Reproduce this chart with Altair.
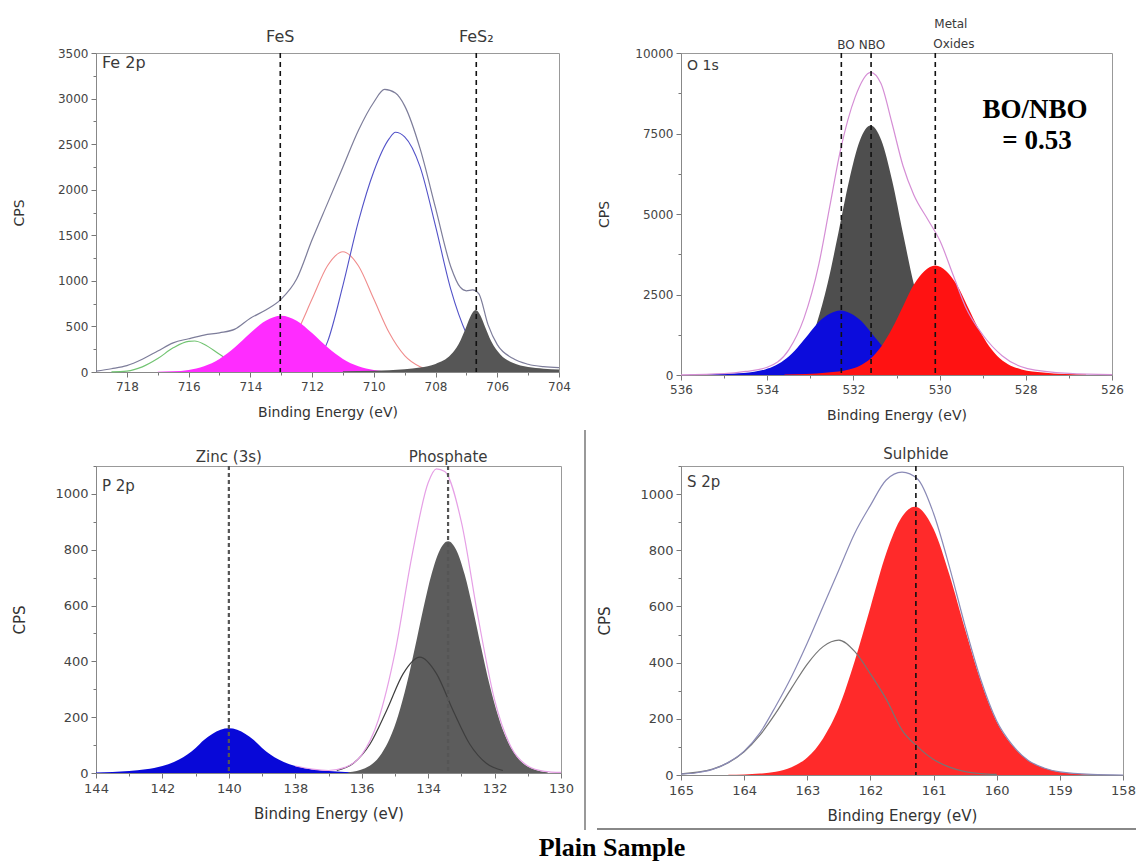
import altair as alt
import pandas as pd

# ---------------- Fe 2p ----------------
fe_env_x = [719.0, 718.5, 718.0, 717.5, 717.0, 716.5, 716.0, 715.5, 715.0, 714.5, 714.0, 713.5, 713.0, 712.5,
            712.0, 711.5, 711.0, 710.5, 710.0, 709.65, 709.3, 709.0, 708.5, 708.0, 707.5, 707.2, 707.0, 706.8,
            706.6, 706.3, 706.0, 705.5, 705.0, 704.5, 704.0]
fe_env_y = [10, 36, 70, 140, 230, 320, 365, 405, 430, 470, 590, 680, 800, 1020,
            1450, 1850, 2250, 2650, 2960, 3100, 3060, 2920, 2450, 1800, 1150, 930, 890, 900,
            860, 520, 300, 150, 85, 58, 48]
fe_blue_x = [712.0, 711.75, 711.5, 711.0, 710.5, 710.0, 709.5, 709.3, 709.0, 708.5, 708.0, 707.5, 707.0,
             706.5, 706.0, 705.5, 705.0, 704.5]
fe_blue_y = [20, 150, 330, 950, 1650, 2200, 2560, 2630, 2580, 2250, 1600, 900, 420, 150, 70, 30, 12, 5]
fe_pink_x = [714.0, 713.5, 713.0, 712.5, 712.0, 711.5, 711.0, 710.5, 710.0, 709.5, 709.0, 708.5, 708.0]
fe_pink_y = [15, 58, 180, 430, 800, 1165, 1320, 1165, 800, 430, 180, 58, 15]
fe_green_x = [718.5, 718.0, 717.5, 717.0, 716.5, 716.0, 715.8, 715.5, 715.0, 714.5, 714.0, 713.5]
fe_green_y = [2, 10, 56, 147, 265, 337, 340, 305, 194, 87, 28, 7]
fe_fes_x = [717.0, 716.5, 716.0, 715.5, 715.0, 714.5, 714.0, 713.5, 713.0, 712.5, 712.0, 711.5, 711.0,
            710.5, 710.0, 709.5, 709.0]
fe_fes_y = [2, 7, 23, 63, 143, 271, 428, 563, 617, 563, 428, 271, 143, 63, 23, 7, 2]
fe_fes2_x = [711.0, 710.0, 709.0, 708.5, 708.0, 707.5, 707.25, 707.0, 706.85, 706.7, 706.55, 706.4, 706.2,
             705.9, 705.5, 705.0, 704.5, 704.0]
fe_fes2_y = [9, 15, 31, 49, 88, 191, 308, 500, 624, 680, 624, 500, 340, 191, 101, 54, 36, 28]
fe_marks_x = [713.03, 706.68]
fe_marks_t = ["FeS", "FeS\u2082"]

# ---------------- O 1s ----------------
o_nbo_x = [534.1, 533.6, 533.35, 533.1, 532.85, 532.6, 532.35, 532.1, 531.85, 531.6, 531.35, 531.1,
           530.85, 530.6, 530.35, 530.1, 529.85, 529.6, 529.1]
o_nbo_y = [14, 139, 357, 805, 1610, 2835, 4400, 6030, 7280, 7750, 7280, 6030, 4400, 2835, 1610, 805,
           357, 139, 14]
o_bo_x = [535.8, 535.3, 534.8, 534.3, 534.05, 533.8, 533.55, 533.3, 533.05, 532.8, 532.55, 532.3, 532.05,
          531.8, 531.55, 531.3, 531.05, 530.8, 530.55, 530.3, 529.8, 529.3, 528.8]
o_bo_y = [8, 20, 45, 100, 170, 300, 520, 850, 1250, 1650, 1900, 2000, 1900, 1650, 1250, 850, 520, 300,
          170, 100, 45, 20, 8]
o_mo_x = [533.6, 533.1, 532.6, 532.1, 531.85, 531.6, 531.35, 531.1, 530.85, 530.6, 530.35, 530.1, 529.85,
          529.6, 529.35, 529.1, 528.85, 528.6, 528.35, 528.1, 527.6, 527.1, 526.6]
o_mo_y = [12, 30, 75, 170, 290, 510, 890, 1450, 2130, 2800, 3230, 3400, 3230, 2800, 2130, 1450, 890, 510,
          290, 170, 75, 30, 12]
o_env_x = [536.0, 535.0, 534.5, 534.0, 533.5, 533.15, 532.8, 532.55, 532.3, 531.96, 531.6, 531.36, 531.11,
           530.85, 530.6, 530.26, 530.0, 529.67, 529.4, 529.0, 528.55, 527.96, 527.0, 526.0]
o_env_y = [5, 40, 110, 240, 780, 1750, 3450, 5220, 6980, 8630, 9400, 9050, 7850, 6500, 5600, 4800, 4190,
           3050, 2120, 1250, 600, 200, 50, 12]
o_marks_x = [532.28, 531.59]
o_marks_t = ["BO", "NBO"]
o_metal_x = [530.1]

# ---------------- P 2p ----------------
p_zn_x = [144.0, 143.5, 143.0, 142.5, 142.0, 141.5, 141.0, 140.75, 140.5, 140.25, 140.0, 139.75, 139.5,
          139.25, 139.0, 138.5, 138.0, 137.5, 137.0, 136.5, 136.0]
p_zn_y = [2, 4, 7, 13, 25, 48, 90, 118, 140, 155, 160, 155, 140, 118, 90, 48, 25, 13, 7, 4, 2]
p_po_x = [136.4, 135.9, 135.4, 135.15, 134.9, 134.65, 134.4, 134.15, 133.9, 133.65, 133.4, 133.15, 132.9,
          132.65, 132.4, 132.15, 131.9, 131.65, 131.4, 130.9, 130.4]
p_po_y = [3, 17, 70, 125, 207, 316, 448, 587, 711, 798, 830, 798, 711, 587, 448, 316, 207, 125, 70, 17, 3]
p_half_x = [136.75, 136.25, 135.75, 135.25, 134.75, 134.25, 133.75, 133.25, 132.75, 132.25, 131.75]
p_half_y = [9, 35, 104, 224, 356, 415, 356, 224, 104, 35, 9]
p_env_x = [138.0, 137.5, 137.0, 136.5, 136.0, 135.5, 135.0, 134.5, 134.0, 133.75, 133.5, 133.0, 132.5,
           132.0, 131.5, 131.0, 130.5, 130.0]
p_env_y = [25, 14, 9, 20, 65, 190, 430, 770, 1040, 1090, 1080, 900, 560, 262, 92, 25, 6, 2]
p_marks_x = [140.0, 133.4]
p_marks_t = ["Zinc (3s)", "Phosphate"]

# ---------------- S 2p ----------------
s_main_x = [164.25, 164.0, 163.75, 163.5, 163.25, 163.0, 162.75, 162.5, 162.25, 162.0, 161.75, 161.5,
            161.3, 161.0, 160.75, 160.5, 160.25, 160.0, 159.75, 159.5, 159.25, 159.0, 158.5, 158.0]
s_main_y = [1, 2, 5, 12, 28, 62, 130, 240, 405, 597, 789, 919, 955, 876, 714, 518, 333, 190, 105, 52, 25,
            11, 2, 0]
s_half_x = [165.0, 164.5, 164.25, 164.0, 163.75, 163.5, 163.25, 163.0, 162.75, 162.5, 162.25, 162.0,
            161.75, 161.5, 161.25, 161.0, 160.75, 160.5, 160.25, 160.0]
s_half_y = [4, 21, 44, 83, 142, 220, 309, 395, 457, 480, 440, 360, 270, 160, 100, 55, 28, 12, 5, 2]
s_env_x = [165.0, 164.75, 164.5, 164.25, 164.0, 163.75, 163.5, 163.25, 163.0, 162.75, 162.5, 162.25, 162.0,
           161.75, 161.5, 161.25, 161.0, 160.75, 160.5, 160.25, 160.0, 159.75, 159.5, 159.25, 159.0,
           158.5, 158.0]
s_env_y = [3, 8, 20, 45, 85, 150, 245, 350, 470, 600, 730, 860, 960, 1050, 1078, 1053, 931, 742, 530, 338,
           192, 106, 52, 25, 11, 2, 0]
s_marks_x = [161.28]
s_marks_t = ["Sulphide"]

FONT = "DejaVu Sans"
SERIF = "Liberation Serif"
TXT = "#3a3a3a"


def frame(x, y):
    return pd.DataFrame({"x": x, "y": y})


def axis_x(values, test, lsize, tsize):
    return alt.Axis(values=values, labelExpr="(" + test + ") ? datum.label : ''", format="d",
                    tickSize={"condition": {"test": test, "value": 5}, "value": 3},
                    labelOverlap=False, labelFlush=False, labelPadding=4, grid=False,
                    labelFontSize=lsize, titleFontSize=tsize,
                    title="Binding Energy (eV)", titleY=33, titleBaseline="top")


def axis_y(values, test, h, lsize, tsize):
    return alt.Axis(values=values, labelExpr="(" + test + ") ? datum.label : ''",
                    tickSize={"condition": {"test": test, "value": 5}, "value": 3},
                    labelOverlap=False, labelFlush=False, labelPadding=3, format="d", grid=False,
                    labelFontSize=lsize, titleFontSize=tsize,
                    title="CPS", titleX=-77, titleY=h / 2, titleAngle=270, titleAlign="center",
                    titleBaseline="middle")


def panel(w, h, xdom, xvals, xtest, ydom, yvals, ytest, layers, lsize=12, tsize=14):
    xs = alt.Scale(domain=xdom, nice=False, zero=False)
    ys = alt.Scale(domain=ydom, nice=False, zero=False)
    X = alt.X("x:Q", scale=xs, axis=axis_x(xvals, xtest, lsize, tsize))
    Y = alt.Y("y:Q", scale=ys, axis=axis_y(yvals, ytest, h, lsize, tsize))
    built = []
    for kind, payload, opts in layers:
        if kind == "area":
            built.append(alt.Chart(payload).mark_area(interpolate="monotone", **opts).encode(x=X, y=Y))
        elif kind == "line":
            built.append(alt.Chart(payload).mark_line(interpolate="monotone", **opts).encode(x=X, y=Y))
        elif kind == "rule":
            built.append(alt.Chart(payload).mark_rule(**opts).encode(x=X))
        elif kind == "label":
            dy = opts.pop("ypix")
            built.append(alt.Chart(payload).mark_text(**opts).encode(x=X, y=alt.value(dy), text="t:N"))
        elif kind == "free":
            built.append(payload)
    return alt.layer(*built).properties(width=w, height=h)


def fixed_text(text, x, y, **opts):
    return alt.Chart(pd.DataFrame({"t": [text]})).mark_text(**opts).encode(
        x=alt.value(x), y=alt.value(y), text="t:N")


# ---------- panel 1 ----------
H1, W1 = 319, 463
p1 = panel(
    W1, H1, [719, 704], list(range(704, 719)), "datum.value % 2 === 0",
    [0, 3500], list(range(0, 3501, 250)), "datum.value % 500 === 0",
    [
        ("line", frame(fe_green_x, fe_green_y), dict(color="#72c472", strokeWidth=1.2)),
        ("line", frame(fe_pink_x, fe_pink_y), dict(color="#f08c8c", strokeWidth=1.1)),
        ("line", frame(fe_blue_x, fe_blue_y), dict(color="#5252c8", strokeWidth=1.1)),
        ("area", frame(fe_fes_x, fe_fes_y), dict(color="#ff2cff", opacity=1)),
        ("area", frame(fe_fes2_x, fe_fes2_y), dict(color="#565656", opacity=1)),
        ("line", frame(fe_env_x, fe_env_y), dict(color="#7d7d9a", strokeWidth=1.2)),
        ("rule", pd.DataFrame({"x": fe_marks_x}), dict(color="#111", strokeWidth=1.6, strokeDash=[5, 4])),
        ("label", pd.DataFrame({"x": fe_marks_x, "t": fe_marks_t}),
         dict(ypix=-11, font=FONT, fontSize=16, color=TXT, baseline="alphabetic", align="center")),
        ("free", fixed_text("Fe 2p", 6, 15, font=FONT, fontSize=16, color=TXT, align="left",
                            baseline="alphabetic"), None),
    ],
)

# ---------- panel 2 ----------
H2, W2 = 322, 431
p2 = panel(
    W2, H2, [536, 526], list(range(526, 537)), "datum.value % 2 === 0",
    [0, 10000], list(range(0, 10001, 1250)), "datum.value % 2500 === 0",
    [
        ("area", frame(o_nbo_x, o_nbo_y), dict(color="#4e4e4e", opacity=1)),
        ("area", frame(o_bo_x, o_bo_y), dict(color="#0c0cdc", opacity=1)),
        ("area", frame(o_mo_x, o_mo_y), dict(color="#ff1212", opacity=1)),
        ("line", frame(o_env_x, o_env_y), dict(color="#d58ed5", strokeWidth=1.2)),
        ("rule", pd.DataFrame({"x": o_marks_x + o_metal_x}),
         dict(color="#111", strokeWidth=1.6, strokeDash=[5, 4])),
        ("label", pd.DataFrame({"x": o_marks_x[:1], "t": o_marks_t[:1]}),
         dict(ypix=-4, font=FONT, fontSize=12, color=TXT, baseline="alphabetic", align="left", dx=-4)),
        ("label", pd.DataFrame({"x": o_marks_x[1:], "t": o_marks_t[1:]}),
         dict(ypix=-4, font=FONT, fontSize=12, color=TXT, baseline="alphabetic", align="center", dx=1)),
        ("label", pd.DataFrame({"x": o_metal_x, "t": ["Metal"]}),
         dict(ypix=-25, font=FONT, fontSize=12, color=TXT, baseline="alphabetic", align="left", dx=-1)),
        ("label", pd.DataFrame({"x": o_metal_x, "t": ["Oxides"]}),
         dict(ypix=-5, font=FONT, fontSize=12, color=TXT, baseline="alphabetic", align="left", dx=-2)),
        ("free", fixed_text("O 1s", 6, 17, font=FONT, fontSize=14, color=TXT, align="left",
                            baseline="alphabetic"), None),
        ("free", fixed_text("BO/NBO", 354, 65, font=SERIF, fontSize=27, fontWeight="bold", color="black",
                            align="center", baseline="alphabetic"), None),
        ("free", fixed_text("= 0.53", 356, 96, font=SERIF, fontSize=27, fontWeight="bold", color="black",
                            align="center", baseline="alphabetic"), None),
    ],
)

# ---------- panel 3 ----------
H3, W3 = 307, 465
p3 = panel(
    W3, H3, [144, 130], list(range(130, 145)), "datum.value % 2 === 0",
    [0, 1100], list(range(0, 1101, 100)), "datum.value % 200 === 0",
    [
        ("area", frame(p_zn_x, p_zn_y), dict(color="#0808d8", opacity=1)),
        ("area", frame(p_po_x, p_po_y), dict(color="#5c5c5c", opacity=1)),
        ("line", frame(p_half_x, p_half_y), dict(color="#3e3e3e", strokeWidth=1.2)),
        ("line", frame(p_env_x, p_env_y), dict(color="#e6a0e6", strokeWidth=1.2)),
        ("rule", pd.DataFrame({"x": p_marks_x}), dict(color="#555", strokeWidth=2.2, strokeDash=[4, 3])),
        ("label", pd.DataFrame({"x": p_marks_x, "t": p_marks_t}),
         dict(ypix=-4, font=FONT, fontSize=15, color=TXT, baseline="alphabetic", align="center")),
        ("free", fixed_text("P 2p", 6, 25, font=FONT, fontSize=15, color=TXT, align="left",
                            baseline="alphabetic"), None),
    ],
    lsize=13, tsize=15,
)

# ---------- panel 4 ----------
H4, W4 = 309, 442
sep = pd.DataFrame({"k": [0]})
p4 = panel(
    W4, H4, [165, 158], [158 + 0.5 * i for i in range(15)], "datum.value % 1 === 0",
    [0, 1100], list(range(0, 1101, 100)), "datum.value % 200 === 0",
    [
        ("area", frame(s_main_x, s_main_y), dict(color="#ff2a2a", opacity=1)),
        ("line", frame(s_half_x, s_half_y), dict(color="#767676", strokeWidth=1.2)),
        ("line", frame(s_env_x, s_env_y), dict(color="#8a8ab6", strokeWidth=1.2)),
        ("rule", pd.DataFrame({"x": s_marks_x}), dict(color="#111", strokeWidth=1.6, strokeDash=[5, 4])),
        ("label", pd.DataFrame({"x": s_marks_x, "t": s_marks_t}),
         dict(ypix=-7, font=FONT, fontSize=15, color=TXT, baseline="alphabetic", align="center")),
        ("free", fixed_text("S 2p", 6, 21, font=FONT, fontSize=15, color=TXT, align="left",
                            baseline="alphabetic"), None),
        ("free", alt.Chart(sep).mark_rule(color="#777", strokeWidth=1.5).encode(
            x=alt.value(-96), y=alt.value(-36), y2=alt.value(364)), None),
        ("free", alt.Chart(sep).mark_rule(color="#888", strokeWidth=2).encode(
            x=alt.value(-84), x2=alt.value(455), y=alt.value(363)), None),
        ("free", fixed_text("Plain Sample", -69, 390, font=SERIF, fontSize=26, fontWeight="bold",
                            color="black", align="center", baseline="alphabetic"), None),
    ],
    lsize=13, tsize=15,
)

chart = alt.concat(
    p1, p2, p3, p4, columns=2, spacing={"row": 91, "column": 120}, bounds="flush", align="each"
).properties(
    autosize=alt.AutoSizeParams(type="none"),
    padding={"left": 96, "top": 53, "right": 1040, "bottom": 812},
    background="white",
).configure_view(
    stroke="#999", strokeWidth=1
).configure_axis(
    labelFont=FONT, labelColor="#444", titleFont=FONT,
    titleFontWeight="normal", titleColor="#333", domainColor="#888", tickColor="#777",
)

chart.save("out.html", embed_options={"renderer": "svg", "actions": False})
